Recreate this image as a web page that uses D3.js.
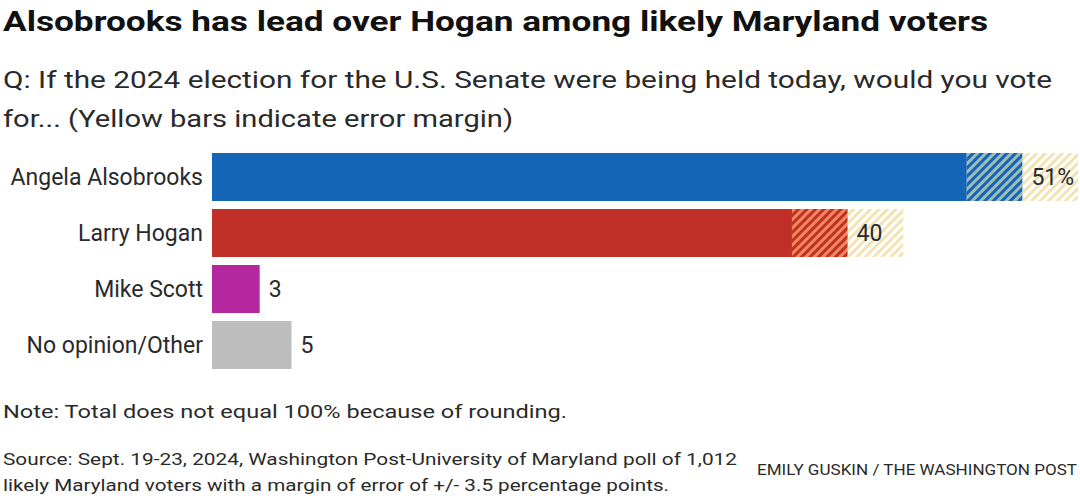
<!DOCTYPE html>
<html>
<head>
<meta charset="utf-8">
<script src="https://cdn.jsdelivr.net/npm/d3@7"></script>
<style>
  html, body { margin: 0; padding: 0; background: #fff; }
  svg { display: block; }
  text { font-family: Roboto, "Liberation Sans", sans-serif; fill: #2a2a2a; }
</style>
</head>
<body>
<svg id="chart" width="1080" height="499"></svg>
<script>
// ---- Data ----
const categories = ["Angela Alsobrooks", "Larry Hogan", "Mike Scott", "No opinion/Other"];
const values = [51, 40, 3, 5];
const valueLabels = ["51%", "40", "3", "5"];
const barColors = ["#1565b6", "#c12f29", "#b5279f", "#bdbdbd"];
const stripeColors = ["#9dbdb6", "#f08a5a", null, null];
const showMargin = [true, true, false, false];
const marginOfError = 3.5;

const title = "Alsobrooks has lead over Hogan among likely Maryland voters";
const subtitle = ["Q: If the 2024 election for the U.S. Senate were being held today, would you vote",
                  "for... (Yellow bars indicate error margin)"];
const note = "Note: Total does not equal 100% because of rounding.";
const source = ["Source: Sept. 19-23, 2024, Washington Post-University of Maryland poll of 1,012",
                "likely Maryland voters with a margin of error of +/- 3.5 percentage points."];
const credit = "EMILY GUSKIN / THE WASHINGTON POST";

// ---- Drawing ----
const svg = d3.select("#chart");
const defs = svg.append("defs");

function stripePattern(id, base, stripe, opacity) {
  const p = defs.append("pattern")
    .attr("id", id)
    .attr("patternUnits", "userSpaceOnUse")
    .attr("width", 6).attr("height", 6)
    .attr("patternTransform", "rotate(45)");
  p.append("rect").attr("width", 6).attr("height", 6).attr("fill", base);
  p.append("rect").attr("width", 3).attr("height", 6).attr("fill", stripe).attr("opacity", opacity);
}
stripePattern("hatch-yellow", "#ffffff", "#f3e2b2", 1);
categories.forEach((c, i) => {
  if (stripeColors[i]) stripePattern("hatch-" + i, barColors[i], stripeColors[i], 1);
});

const x = d3.scaleLinear().domain([0, 54.5]).range([212, 1078]);
const y = d3.scaleBand().domain(categories).range([153, 369]).paddingInner(8 / 56).paddingOuter(0);

function addText(str, tx, ty, size, weight, width, extra) {
  const t = svg.append("text")
    .attr("x", tx).attr("y", ty)
    .style("font-size", size + "px")
    .style("font-weight", weight)
    .text(str);
  if (width) t.attr("textLength", width).attr("lengthAdjust", "spacingAndGlyphs");
  if (extra) extra(t);
  return t;
}

addText(title, 3, 31, 28, 700, 985, t => t.style("fill", "#111"));
addText(subtitle[0], 3, 88, 24, 400, 1049);
addText(subtitle[1], 3, 127, 24, 400, 510);

const g = svg.append("g");
const rows = g.selectAll("g.row").data(categories).join("g").attr("class", "row");

rows.each(function(c, i) {
  const sel = d3.select(this);
  const y0 = y(c), h = y.bandwidth();
  const v = values[i];
  if (showMargin[i]) {
    sel.append("rect")
      .attr("x", x(v)).attr("y", y0)
      .attr("width", x(v + marginOfError) - x(v)).attr("height", h)
      .attr("fill", "url(#hatch-yellow)");
    sel.append("rect")
      .attr("x", x(0)).attr("y", y0)
      .attr("width", x(v - marginOfError) - x(0)).attr("height", h)
      .attr("fill", barColors[i]);
    sel.append("rect")
      .attr("x", x(v - marginOfError)).attr("y", y0)
      .attr("width", x(v) - x(v - marginOfError)).attr("height", h)
      .attr("fill", "url(#hatch-" + i + ")");
  } else {
    sel.append("rect")
      .attr("x", x(0)).attr("y", y0)
      .attr("width", x(v) - x(0)).attr("height", h)
      .attr("fill", barColors[i]);
  }
  sel.append("text")
    .attr("x", x(0) - 9).attr("y", y0 + h / 2 + 8)
    .attr("text-anchor", "end")
    .style("font-size", "23px")
    .text(c);
  sel.append("text")
    .attr("x", x(v) + 9).attr("y", y0 + h / 2 + 8)
    .style("font-size", "23px")
    .text(valueLabels[i]);
});

addText(note, 3, 418, 19, 400, 564);
addText(source[0], 3, 465, 17, 400, 734);
addText(source[1], 3, 491, 17, 400, 666);
addText(credit, 757, 475, 15, 400, 320);
</script>
</body>
</html>
